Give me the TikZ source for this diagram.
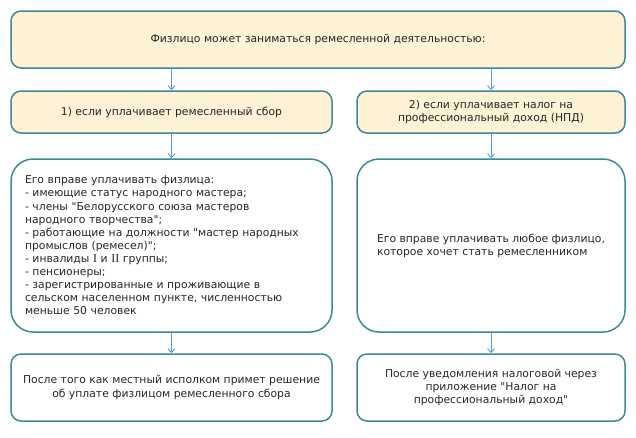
\documentclass[tikz,border=0pt]{standalone}
\usepackage{fontspec}
\setmainfont{DejaVu Sans}
\newfontfamily\romain{Liberation Serif}
\usetikzlibrary{arrows.meta}
\definecolor{bord}{HTML}{3A8A98}
\definecolor{creme}{HTML}{FDF1D6}
\definecolor{fleche}{HTML}{5B9BD5}
\newcommand{\gu}{\textquotedbl}
\tikzset {boite/.style={draw=bord, line width=1.5pt, rounded corners=10pt,
           inner sep=0pt, align=center, text=black!85,
           font=\fontsize{10.8}{13.1}\selectfont},
          titre/.style={boite, fill=creme},
          liste/.style={boite, rounded corners=22pt},
          gauche/.style={minimum width=321pt},
          droite/.style={minimum width=268pt}}
\tikzset {fl/.style={draw=fleche, line width=0.9pt,
           -{Straight Barb[length=4pt,width=7pt]}}}

\begin{document}
\begin{tikzpicture}[x=1pt,y=-1pt]
  \useasboundingbox (0,0) rectangle (636,437);
  \node [titre, minimum width=614pt, minimum height=57pt] (phys) at (318,39.5)
    {Физлицо может заниматься ремесленной деятельностью:};
  \node [titre, gauche, minimum height=42pt] (sbor) at (171.5,112)
    {1) если уплачивает ремесленный сбор};
  \node [titre, droite, minimum height=42pt] (npd) at (491,112)
    {2) если уплачивает налог на\\профессиональный доход (НПД)};
  \node [liste, gauche, minimum height=173pt, align=left, text width=293pt] (qui1) at (171.5,245.5)
    {Его вправе уплачивать физлица:\\
     - имеющие статус народного мастера;\\
     - члены \gu Белорусского союза мастеров\\
     народного творчества\gu;\\
     - работающие на должности \gu мастер народных\\
     промыслов (ремесел)\gu;\\
     - инвалиды {\romain\fontsize{12}{13.1}\selectfont I} и {\romain\fontsize{12}{13.1}\selectfont II} группы;\\
     - пенсионеры;\\
     - зарегистрированные и проживающие в\\
     сельском населенном пункте, численностью\\
     меньше 50 человек};
  \node [liste, droite, minimum height=173pt, align=left] (qui2) at (491,245.5)
    {Его вправе уплачивать любое физлицо,\\которое хочет стать ремесленником};
  \node [boite, gauche, minimum height=67pt] (quand1) at (171.5,387.5)
    {После того как местный исполком примет решение\\об уплате физлицом ремесленного сбора};
  \node [boite, droite, minimum height=67pt] (quand2) at (491,387.5)
    {После уведомления налоговой через\\приложение \gu Налог на\\профессиональный доход\gu};
  \draw [fl] (sbor.north |- phys.south) -- (sbor.north);
  \draw [fl] (npd.north |- phys.south) -- (npd.north);
  \draw [fl] (sbor) -- (qui1);
  \draw [fl] (npd) -- (qui2);
  \draw [fl] (qui1) -- (quand1);
  \draw [fl] (qui2) -- (quand2);
\end{tikzpicture}
\end{document}
